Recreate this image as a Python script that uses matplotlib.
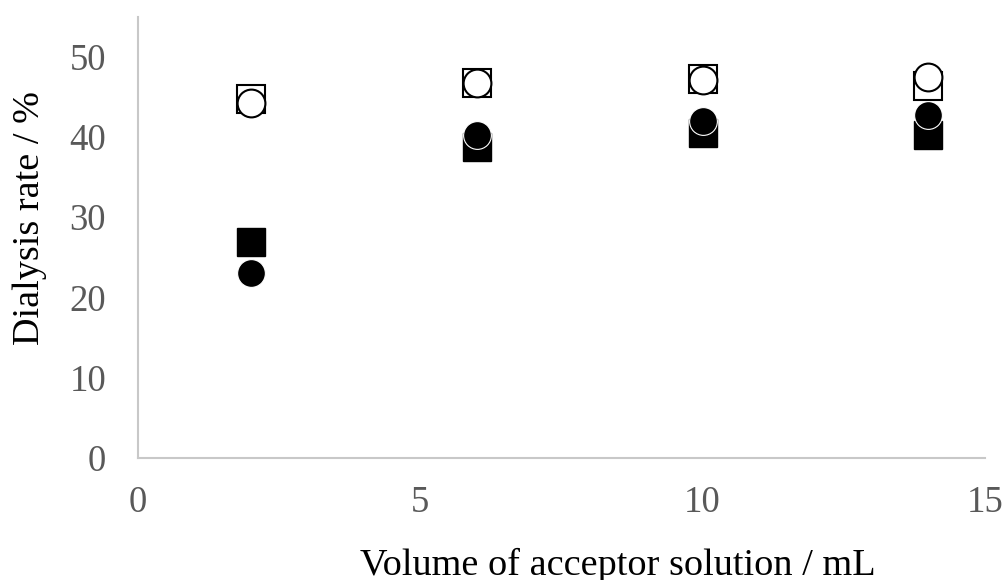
import matplotlib
import matplotlib.pyplot as plt

matplotlib.use('Agg')

# Volume of acceptor solution (mL)
volume = [2, 6, 10, 14]

# Dialysis rate (%) per series
open_square = [44.7, 46.7, 47.2, 46.4]
filled_square = [26.9, 38.8, 40.5, 40.3]
open_circle = [44.2, 46.8, 47.1, 47.5]
filled_circle = [23.0, 40.3, 42.0, 42.7]

x_ticks = [0, 5, 10, 15]
y_ticks = [0, 10, 20, 30, 40, 50]

plt.rcParams['font.family'] = ['Liberation Serif', 'DejaVu Serif']

fig = plt.figure(figsize=(10.08, 5.8), dpi=100)
ax = fig.add_axes([0.137, 0.211, 0.840, 0.760])

ms = 20
ax.plot(volume, open_square, ls='none', marker='s', ms=ms, mfc='white', mec='black', mew=1.5, zorder=3)
ax.plot(volume, filled_square, ls='none', marker='s', ms=ms, mfc='black', mec='black', mew=1.0, zorder=3)
ax.plot(volume, open_circle, ls='none', marker='o', ms=ms, mfc='white', mec='black', mew=1.5, zorder=4)
ax.plot(volume, filled_circle, ls='none', marker='o', ms=ms, mfc='black', mec='white', mew=0.8, zorder=4)

ax.set_xlim(0, 15)
ax.set_ylim(0, 55)
ax.set_xticks(x_ticks)
ax.set_yticks(y_ticks)

# Excel-like axes: grey left/bottom lines, no tick marks
for side in ['top', 'right']:
    ax.spines[side].set_visible(False)
for side in ['left', 'bottom']:
    ax.spines[side].set_color('#c8c8c8')
    ax.spines[side].set_linewidth(1.5)

ax.tick_params(axis='both', length=0, labelsize=26.5, labelcolor='#595959')
ax.tick_params(axis='x', pad=20)
ax.tick_params(axis='y', pad=23)

ax.set_xlabel('Volume of acceptor solution / mL', fontsize=27.5)
ax.set_ylabel('Dialysis rate / %', fontsize=27.5)
ax.xaxis.set_label_coords(0.567, -0.205)
ax.yaxis.set_label_coords(-0.108, 0.544)

plt.savefig('out.png', dpi=100)
plt.close()
